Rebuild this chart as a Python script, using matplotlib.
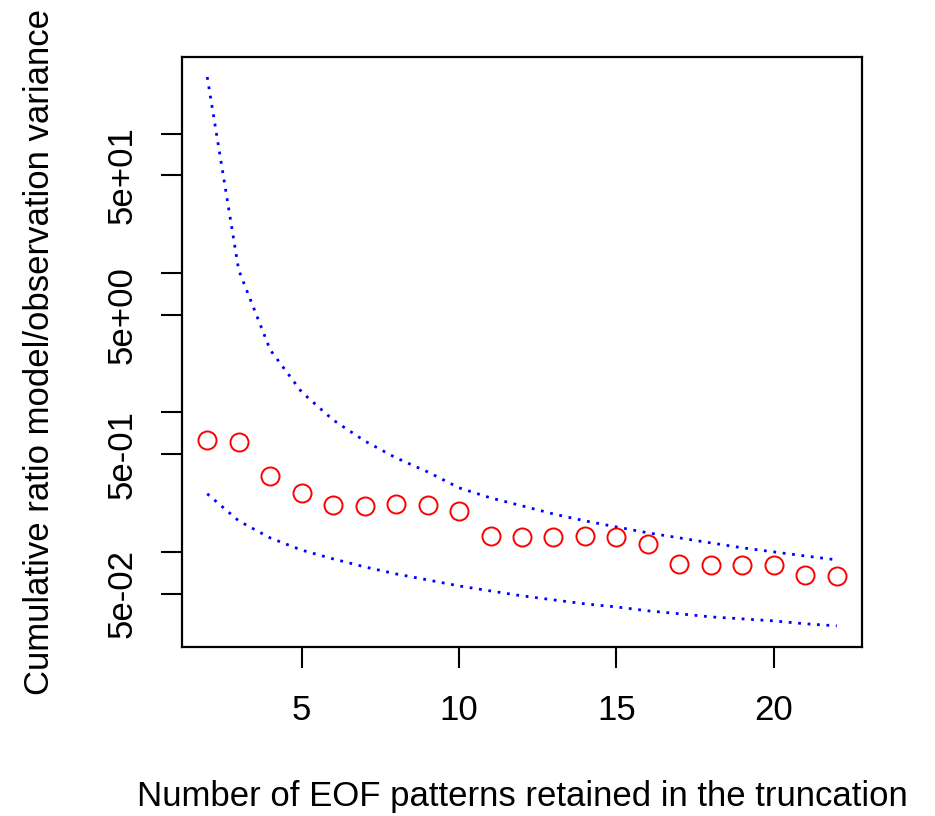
import matplotlib
matplotlib.use("Agg")
import matplotlib.pyplot as plt
import numpy as np

# Number of EOF patterns retained
n_eof = [2, 3, 4, 5, 6, 7, 8, 9, 10, 11, 12, 13, 14, 15, 16, 17, 18, 19, 20, 21, 22]

# Cumulative ratio model/observation variance (red circles)
ratio = [0.635, 0.615, 0.351, 0.265, 0.217, 0.214, 0.221, 0.217, 0.197, 0.130, 0.128,
         0.128, 0.130, 0.128, 0.114, 0.082, 0.0807, 0.0807, 0.0807, 0.0684, 0.0673]

# Upper and lower bounds (blue dotted)
upper = [254, 10.5, 2.81, 1.40, 0.883, 0.625, 0.472, 0.375, 0.288, 0.244, 0.214,
         0.187, 0.167, 0.151, 0.137, 0.126, 0.116, 0.107, 0.100, 0.0935, 0.0877]
lower = [0.261, 0.167, 0.126, 0.103, 0.0891, 0.0781, 0.0695, 0.0630, 0.0570, 0.0525, 0.0484,
         0.0453, 0.0424, 0.0403, 0.0378, 0.0360, 0.0342, 0.0331, 0.0320, 0.0305, 0.0295]

x_ticks = [5, 10, 15, 20]
y_ticks = [0.05, 0.1, 0.5, 1, 5, 10, 50, 100]
y_labels = ["5e-02", "", "5e-01", "", "5e+00", "", "5e+01", ""]

plt.rcParams['font.family'] = ['Liberation Sans', 'DejaVu Sans']

fig = plt.figure(figsize=(9.35, 8.16), dpi=100)
ax = fig.add_axes([0.1947, 0.2071, 0.9219 - 0.1947, 0.930 - 0.2071])

dots = (0, (1, 2.4))
ax.plot(n_eof, upper, color='#0000ff', lw=2.0, linestyle=dots)
ax.plot(n_eof, lower, color='#0000ff', lw=2.0, linestyle=dots)
ax.plot(n_eof, ratio, linestyle='none', marker='o', markersize=13,
        markerfacecolor='none', markeredgecolor='#ff0000', markeredgewidth=1.4)

ax.set_yscale('log')
ax.set_xlim(1.2, 22.8)
ax.set_ylim(0.0208, 353)

ax.yaxis.set_major_locator(matplotlib.ticker.FixedLocator(y_ticks))
ax.yaxis.set_minor_locator(matplotlib.ticker.NullLocator())
ax.set_yticklabels(y_labels, rotation=90, va='center')
ax.set_xticks(x_ticks)

for s in ax.spines.values():
    s.set_linewidth(1.6)
ax.tick_params(axis='both', direction='out', length=15, width=1.5, labelsize=25)
ax.tick_params(axis='x', pad=19)
ax.tick_params(axis='y', pad=16)

ax.set_xlabel("Number of EOF patterns retained in the truncation", fontsize=25, labelpad=38)
ax.set_ylabel("Cumulative ratio model/observation variance", fontsize=25, labelpad=36)

fig.savefig("out.png", dpi=100)
